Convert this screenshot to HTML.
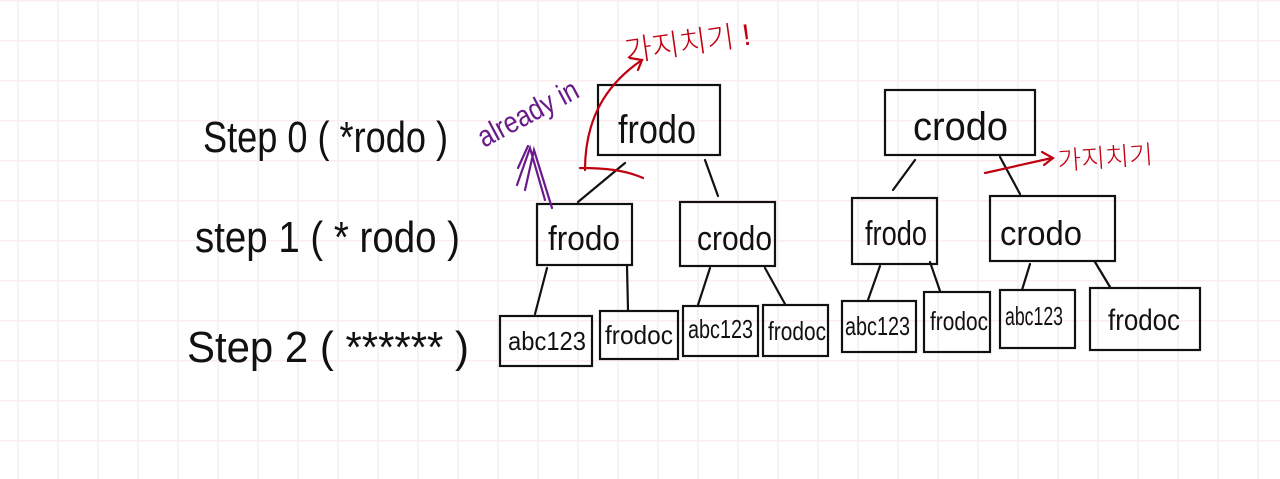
<!DOCTYPE html>
<html><head><meta charset="utf-8"><style>
html,body{margin:0;padding:0;background:#fff;}
svg{display:block}
text{font-family:"Liberation Sans Narrow","Liberation Sans","Noto Sans CJK KR",sans-serif;font-weight:300}
</style></head><body>
<svg width="1280" height="479" viewBox="0 0 1280 479" xmlns="http://www.w3.org/2000/svg">
<defs>
<pattern id="gv" width="40" height="479" patternUnits="userSpaceOnUse" x="17">
<rect x="0" y="0" width="2" height="479" fill="#f3f3f5"/>
</pattern>
<pattern id="gh" width="1280" height="40" patternUnits="userSpaceOnUse" y="0">
<rect x="0" y="40" width="1280" height="1.5" fill="#fbecef"/>
<rect x="0" y="0" width="1280" height="1.5" fill="#fbecef"/>
</pattern>
</defs>
<rect width="1280" height="479" fill="#fff"/>
<rect width="1280" height="479" fill="url(#gv)"/>
<rect width="1280" height="479" fill="url(#gh)"/>

<g fill="#111" font-size="44">
<text x="203" y="152" textLength="245" lengthAdjust="spacingAndGlyphs">Step 0 ( *rodo )</text>
<text x="195" y="252" textLength="265" lengthAdjust="spacingAndGlyphs">step 1 ( * rodo )</text>
<text x="187" y="362" textLength="282" lengthAdjust="spacingAndGlyphs">Step 2 ( ****** )</text>
</g>

<g fill="none" stroke="#111" stroke-width="2.2" stroke-linecap="round">
<rect x="598" y="85" width="122" height="70"/>
<rect x="885" y="90" width="150" height="65"/>
<rect x="537" y="204" width="95" height="61"/>
<rect x="680" y="202" width="95" height="64"/>
<rect x="852" y="198" width="85" height="66"/>
<rect x="990" y="196" width="125" height="65"/>
<rect x="500" y="316" width="92" height="50"/>
<rect x="600" y="311" width="78" height="48"/>
<rect x="683" y="306" width="75" height="50"/>
<rect x="763" y="305" width="65" height="51"/>
<rect x="842" y="301" width="74" height="51"/>
<rect x="924" y="292" width="66" height="60"/>
<rect x="1000" y="290" width="75" height="58"/>
<rect x="1090" y="288" width="110" height="62"/>
<path d="M625 163 L578 202 M705 160 L718 196 M915 160 L893 190 M1000 157 L1020 194
M547 268 L535 314 M627 266 L628 310 M710 268 L698 305 M765 268 L785 304
M880 266 L868 300 M930 262 L940 291 M1030 264 L1022 290 M1095 262 L1110 287"/>
</g>

<g fill="#111" font-size="34">
<text x="618" y="143" font-size="40" textLength="78" lengthAdjust="spacingAndGlyphs">frodo</text>
<text x="913" y="140" font-size="40" textLength="95" lengthAdjust="spacingAndGlyphs">crodo</text>
<text x="548" y="250" textLength="72" lengthAdjust="spacingAndGlyphs">frodo</text>
<text x="697" y="250" textLength="75" lengthAdjust="spacingAndGlyphs">crodo</text>
<text x="865" y="245" textLength="62" lengthAdjust="spacingAndGlyphs">frodo</text>
<text x="1000" y="245" textLength="82" lengthAdjust="spacingAndGlyphs">crodo</text>
</g>
<g fill="#111" font-size="26">
<text x="508" y="350" textLength="78" lengthAdjust="spacingAndGlyphs">abc123</text>
<text x="605" y="344" textLength="68" lengthAdjust="spacingAndGlyphs">frodoc</text>
<text x="688" y="338" textLength="65" lengthAdjust="spacingAndGlyphs">abc123</text>
<text x="768" y="340" textLength="58" lengthAdjust="spacingAndGlyphs">frodoc</text>
<text x="845" y="335" textLength="65" lengthAdjust="spacingAndGlyphs">abc123</text>
<text x="930" y="330" textLength="58" lengthAdjust="spacingAndGlyphs">frodoc</text>
<text x="1005" y="325" textLength="58" lengthAdjust="spacingAndGlyphs">abc123</text>
<text x="1108" y="330" font-size="30" textLength="72" lengthAdjust="spacingAndGlyphs">frodoc</text>
</g>

<g fill="none" stroke="#c00010" stroke-width="2.2" stroke-linecap="round">
<path d="M585 170 C585 120 605 85 642 60"/>
<path d="M630 58 L642 60 L638 70"/>
<path d="M580 168 C605 168 625 170 643 178"/>
<path d="M985 173 L1052 158"/>
<path d="M1042 152 L1053 158 L1044 165"/>
</g>
<text x="626" y="62" fill="#c00010" font-size="30" transform="rotate(-8 626 62)" font-family="'Noto Sans CJK KR',sans-serif">가지치기 !</text>
<text x="1058" y="170" fill="#c00010" font-size="26" transform="rotate(-4 1058 170)" font-family="'Noto Sans CJK KR',sans-serif">가지치기</text>

<text x="484" y="148" fill="#6a1a8a" font-size="30" transform="rotate(-28 484 148)" textLength="110" lengthAdjust="spacingAndGlyphs">already in</text>
<g fill="none" stroke="#6a1a8a" stroke-width="2.2" stroke-linecap="round">
<path d="M517 185 L530 148 L545 200 M525 190 L534 150 L552 208 M518 168 L528 146"/>
</g>
</svg>
</body></html>
